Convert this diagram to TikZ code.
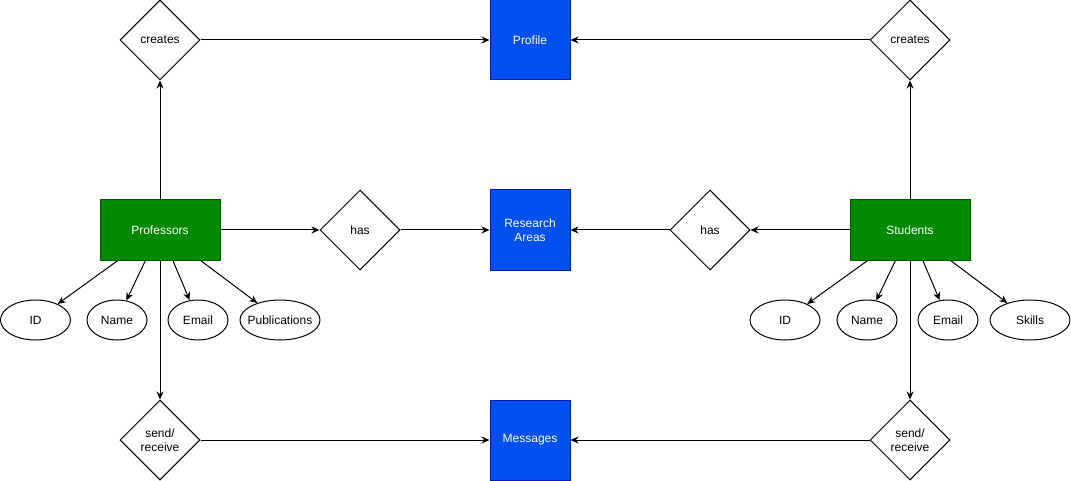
\documentclass[tikz,border=0pt]{standalone}
\usepackage{fontspec}
\setmainfont{Liberation Sans}
\usetikzlibrary{shapes.geometric,arrows.meta}
\definecolor{bluefill}{HTML}{0050EF}
\definecolor{bluedraw}{HTML}{001DBC}
\definecolor{greenfill}{HTML}{008A00}
\definecolor{greendraw}{HTML}{005700}
\newcommand{\attrtext}[1]{\makebox[0pt]{#1}}
\tikzset{
  base/.style={font=\fontsize{12}{14}\selectfont, inner sep=0pt, line width=1pt},
  thing/.style={base, rectangle, fill=bluefill, draw=bluedraw, text=white, minimum width=80pt, minimum height=80pt, align=center},
  actor/.style={base, rectangle, fill=greenfill, draw=greendraw, text=white, minimum width=120pt, minimum height=60pt},
  rel/.style={base, diamond, draw=black, fill=white, minimum width=80pt, minimum height=80pt, aspect=1, align=center},
  attr/.style={base, ellipse, draw=black, fill=white, minimum height=40pt},
  conn/.style={line width=1pt, -{Stealth[length=8pt,width=7pt]}},
}
\begin{document}
\begin{tikzpicture}[x=1pt,y=-1pt]
\useasboundingbox (0,0) rectangle (1071,481);
% entities
\node[thing] (profile) at (530,40) {Profile};
\node[thing] (research) at (530,230) {Research\\Areas};
\node[thing] (messages) at (530,440) {Messages};
\node[actor] (prof) at (160,230) {Professors};
\node[actor] (stud) at (910,230) {Students};
% relations
\node[rel] (createsL) at (160,40) {creates};
\node[rel] (createsR) at (910,40) {creates};
\node[rel] (hasL) at (360,230) {has};
\node[rel] (hasR) at (710,230) {has};
\node[rel] (sendL) at (160,440) {send/\\receive};
\node[rel] (sendR) at (910,440) {send/\\receive};
% attributes
\node[attr, minimum width=70pt] (pid) at (35.5,320) {\attrtext{ID}};
\node[attr, minimum width=60pt] (pname) at (117,320) {\attrtext{Name}};
\node[attr, minimum width=60pt] (pemail) at (198,320) {\attrtext{Email}};
\node[attr, minimum width=80pt] (ppub) at (280,320) {\attrtext{Publications}};
\node[attr, minimum width=70pt] (sid) at (785,320) {\attrtext{ID}};
\node[attr, minimum width=60pt] (sname) at (867,320) {\attrtext{Name}};
\node[attr, minimum width=60pt] (semail) at (948,320) {\attrtext{Email}};
\node[attr, minimum width=80pt] (sskills) at (1030,320) {\attrtext{Skills}};
% connectors
\draw[conn] (prof) -- (createsL);
\draw[conn] (prof) -- (sendL);
\draw[conn] (prof) -- (hasL);
\draw[conn] (createsL) -- (profile);
\draw[conn] (hasL) -- (research);
\draw[conn] (sendL) -- (messages);
\draw[conn] (stud) -- (createsR);
\draw[conn] (stud) -- (sendR);
\draw[conn] (stud) -- (hasR);
\draw[conn] (createsR) -- (profile);
\draw[conn] (hasR) -- (research);
\draw[conn] (sendR) -- (messages);
\draw[conn] (prof) -- (pid);
\draw[conn] (prof) -- (pname);
\draw[conn] (prof) -- (pemail);
\draw[conn] (prof) -- (ppub);
\draw[conn] (stud) -- (sid);
\draw[conn] (stud) -- (sname);
\draw[conn] (stud) -- (semail);
\draw[conn] (stud) -- (sskills);
\end{tikzpicture}
\end{document}
